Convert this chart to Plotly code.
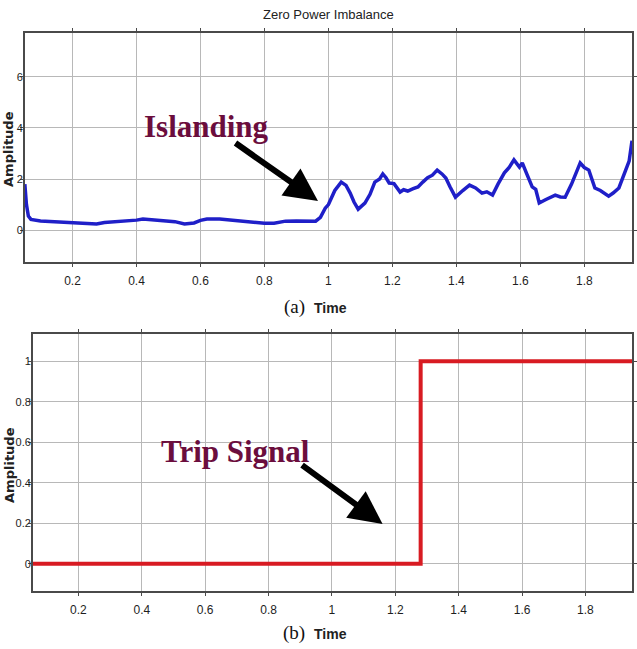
import plotly.graph_objects as go

W, H = 637, 649

# ---- data: (a) zero power imbalance ----
time_a = [0.051, 0.056, 0.062, 0.07, 0.10, 0.15, 0.20, 0.25, 0.275, 0.30, 0.35, 0.40, 0.42, 0.45,
          0.50, 0.52, 0.55, 0.58, 0.60, 0.62, 0.66, 0.70, 0.75, 0.80, 0.83, 0.866, 0.90, 0.93,
          0.96, 0.975, 0.99, 1.00, 1.02, 1.04, 1.055, 1.068, 1.08, 1.093, 1.114, 1.13, 1.145,
          1.16, 1.17, 1.18, 1.19, 1.205, 1.224, 1.235, 1.248, 1.265, 1.28, 1.295, 1.31, 1.325,
          1.34, 1.355, 1.367, 1.38, 1.397, 1.42, 1.441, 1.46, 1.48, 1.495, 1.513, 1.53, 1.55,
          1.565, 1.58, 1.597, 1.606, 1.62, 1.637, 1.648, 1.659, 1.68, 1.709, 1.725, 1.74, 1.76,
          1.787, 1.80, 1.814, 1.833, 1.85, 1.876, 1.89, 1.908, 1.926, 1.94, 1.949]
amp_a = [1.8, 1.0, 0.55, 0.42, 0.36, 0.33, 0.31, 0.28, 0.24, 0.30, 0.33, 0.39, 0.43, 0.40,
         0.37, 0.33, 0.24, 0.28, 0.38, 0.43, 0.43, 0.38, 0.35, 0.27, 0.27, 0.35, 0.36, 0.34,
         0.35, 0.50, 0.86, 1.0, 1.55, 1.88, 1.75, 1.45, 1.10, 0.82, 1.06, 1.40, 1.88,
         2.0, 2.2, 2.05, 1.84, 1.82, 1.49, 1.58, 1.53, 1.62, 1.69, 1.88, 2.05, 2.15,
         2.35, 2.2, 2.04, 1.7, 1.29, 1.55, 1.76, 1.65, 1.45, 1.5, 1.37, 1.8, 2.24,
         2.45, 2.75, 2.47, 2.63, 2.2, 1.69, 1.6, 1.06, 1.2, 1.37, 1.3, 1.29, 1.8,
         2.63, 2.45, 2.35, 1.65, 1.55, 1.33, 1.45, 1.65, 2.24, 2.7, 3.5]

# ---- data: (b) trip signal ----
time_b = [0.056, 1.28, 1.28, 1.947]
amp_b = [0, 0, 1, 1]

x_ticks = [0.2, 0.4, 0.6, 0.8, 1.0, 1.2, 1.4, 1.6, 1.8]
x_tick_text = ["0.2", "0.4", "0.6", "0.8", "1", "1.2", "1.4", "1.6", "1.8"]
ya_ticks = [0, 2, 4, 6]
yb_ticks = [0, 0.2, 0.4, 0.6, 0.8, 1.0]
yb_tick_text = ["0", "0.2", "0.4", "0.6", "0.8", "1"]

NARROW = "Liberation Sans Narrow, Arial Narrow, Liberation Sans, Arial, sans-serif"
XTICKFONT = dict(family=NARROW, size=12, color="#1e1e1e")
YTICKFONT = dict(family=NARROW, size=11, color="#1e1e1e")
GRID = "#b8b8b8"
BORDER = "#4a4a4a"
MAROON = "#6b0d3d"


def px(xp):
    return xp / W


def py(yp):
    return 1 - yp / H


fig = go.Figure()
fig.add_trace(go.Scatter(x=time_a, y=amp_a, mode="lines", xaxis="x", yaxis="y",
                         line=dict(color="#1f1fc8", width=3.5), showlegend=False))
fig.add_trace(go.Scatter(x=time_b, y=amp_b, mode="lines", xaxis="x2", yaxis="y2",
                         line=dict(color="#d81b22", width=4), showlegend=False))

axis_common = dict(showgrid=True, gridcolor=GRID, gridwidth=1, zeroline=False,
                   showline=True, linecolor=BORDER, linewidth=1.5, mirror="ticks",
                   ticks="outside", ticklen=3, tickcolor=BORDER)

fig.update_layout(
    width=W, height=H,
    margin=dict(l=0, r=0, t=0, b=0),
    paper_bgcolor="white", plot_bgcolor="white",
    xaxis=dict(domain=[px(25), px(636)], range=[0.051, 1.949], anchor="y",
               tickvals=x_ticks, ticktext=x_tick_text, ticklabelstandoff=4,
               tickfont=XTICKFONT, **axis_common),
    yaxis=dict(domain=[py(262), py(33)], range=[-1.25, 7.72], anchor="x",
               tickvals=ya_ticks, ticklabelstandoff=-5, tickfont=YTICKFONT, **axis_common),
    xaxis2=dict(domain=[px(33), px(636)], range=[0.056, 1.947], anchor="y2",
                tickvals=x_ticks, ticktext=x_tick_text, ticklabelstandoff=4,
                tickfont=XTICKFONT, **axis_common),
    yaxis2=dict(domain=[py(591), py(334)], range=[-0.134, 1.134], anchor="x2",
                tickvals=yb_ticks, ticktext=yb_tick_text, ticklabelstandoff=-5,
                tickfont=YTICKFONT, **axis_common),
)

ann = []
ann.append(dict(text="Zero Power Imbalance", x=px(331), y=py(15), xref="paper", yref="paper",
                showarrow=False, xanchor="center", yanchor="middle",
                font=dict(family=NARROW, size=13, color="#222222")))
for yc in (149, 465):
    ann.append(dict(text="<b>Amplitude</b>", x=px(9), y=py(yc), xref="paper", yref="paper",
                    showarrow=False, textangle=-90, xanchor="center", yanchor="middle",
                    font=dict(family="DejaVu Sans, sans-serif", size=13, color="#222222")))
for lab, yc in (("(a)", 307), ("(b)", 633)):
    ann.append(dict(text=lab, x=px(296), y=py(yc), xref="paper", yref="paper",
                    showarrow=False, xanchor="center", yanchor="middle",
                    font=dict(family="Liberation Serif, Times New Roman, serif", size=19,
                              color="#111111")))
    ann.append(dict(text="<b>Time</b>", x=px(333), y=py(yc + 1), xref="paper", yref="paper",
                    showarrow=False, xanchor="center", yanchor="middle",
                    font=dict(family=NARROW, size=14, color="#222222")))

ann.append(dict(text="<b>Islanding</b>", x=px(208), y=py(126), xref="paper", yref="paper",
                showarrow=False, xanchor="center", yanchor="middle",
                font=dict(family="Liberation Serif, Times New Roman, serif", size=31, color=MAROON)))
ann.append(dict(text="<b>Trip Signal</b>", x=px(237), y=py(451), xref="paper", yref="paper",
                showarrow=False, xanchor="center", yanchor="middle",
                font=dict(family="Liberation Serif, Times New Roman, serif", size=31, color=MAROON)))

for tip, tail in (((320, 201), (236, 142)), ((385, 524), (303, 464))):
    ann.append(dict(text="", x=px(tip[0]), y=py(tip[1]), xref="paper", yref="paper",
                    showarrow=True, axref="pixel", ayref="pixel",
                    ax=tail[0] - tip[0], ay=tail[1] - tip[1],
                    arrowhead=2, arrowsize=1.1, arrowwidth=6, arrowcolor="black",
                    standoff=0, startstandoff=0))

fig.update_layout(annotations=ann)
fig.write_html("out.html", config={"displayModeBar": False},
               post_script="document.body.style.margin='0';")
